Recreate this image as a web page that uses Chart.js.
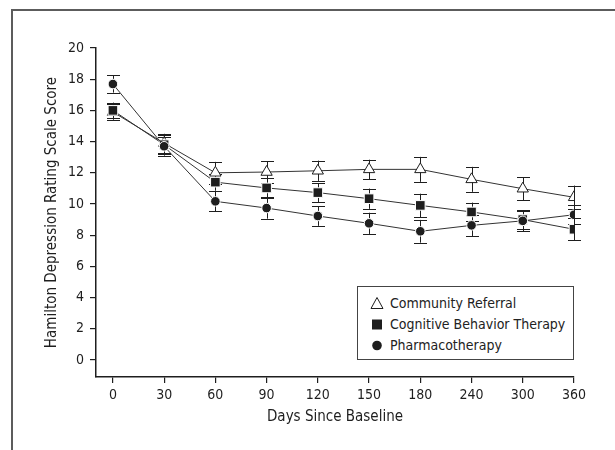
<!DOCTYPE html>
<html>
<head>
<meta charset="utf-8">
<script src="https://cdn.jsdelivr.net/npm/chart.js@4.4.1/dist/chart.umd.min.js"></script>
<style>
  html, body { margin: 0; padding: 0; background: #fff; }
  #wrap { position: relative; width: 615px; height: 450px; overflow: hidden; }
  #frame { position: absolute; left: 11px; top: 9px; width: 700px; height: 500px;
           border-left: 2px solid #5c5c5c; border-top: 2px solid #5c5c5c; }
  #myChart { position: absolute; left: 0; top: 0; }
  #legend { position: absolute; left: 357px; top: 286px; width: 215px; height: 72px;
            border: 1.5px solid #444; background: #fff; color: #222;
            font-family: "Liberation Sans Narrow", "DejaVu Sans Condensed", sans-serif; font-size: 14px; }
  .row { position: absolute; left: 0; height: 20px; line-height: 20px; white-space: nowrap; }
  .row svg { position: absolute; left: 12px; top: 3px; }
  .row span { position: absolute; left: 32px; top: 0; }
</style>
</head>
<body>
<div id="wrap">
  <div id="frame"></div>
  <canvas id="myChart" width="615" height="450"></canvas>
  <div id="legend"></div>
</div>
<script>
// Data
const days = ['0', '30', '60', '90', '120', '150', '180', '240', '300', '360'];
const yTicks = [0, 2, 4, 6, 8, 10, 12, 14, 16, 18, 20];
const seriesNames = ['Community Referral', 'Cognitive Behavior Therapy', 'Pharmacotherapy'];

const community = [15.9, 13.9, 12.0, 12.05, 12.13, 12.22, 12.22, 11.58, 10.98, 10.43];
const cbt       = [16.0, 13.8, 11.4, 11.03, 10.73, 10.34, 9.91, 9.49, 9.0, 8.38];
const pharm     = [17.69, 13.7, 10.17, 9.74, 9.23, 8.76, 8.25, 8.63, 8.92, 9.31];

// +/- error (half length of bars)
const communityErr = [0.5, 0.6, 0.7, 0.7, 0.65, 0.62, 0.8, 0.8, 0.75, 0.75];
const cbtErr       = [0.5, 0.6, 0.55, 0.65, 0.6, 0.65, 0.75, 0.6, 0.6, 0.7];
const pharmErr     = [0.55, 0.6, 0.65, 0.68, 0.63, 0.68, 0.73, 0.68, 0.65, 0.6];

const errorSets = [communityErr, cbtErr, pharmErr];
const FONT = '"Liberation Sans Narrow", "DejaVu Sans Condensed", sans-serif';
const INK = '#1e1e1e';

const toPoints = arr => arr.map((v, i) => ({ x: i, y: v }));

// error bars under the markers
const errorBars = {
  id: 'errorBars',
  beforeDatasetsDraw(chart) {
    const { ctx, scales: { x, y } } = chart;
    ctx.save();
    ctx.strokeStyle = INK;
    ctx.lineWidth = 1;
    chart.data.datasets.forEach((ds, i) => {
      const errs = errorSets[i];
      ds.data.forEach((p, j) => {
        const px = Math.round(x.getPixelForValue(p.x)) + 0.5;
        const top = y.getPixelForValue(p.y + errs[j]);
        const bot = y.getPixelForValue(p.y - errs[j]);
        ctx.beginPath();
        ctx.moveTo(px, top);
        ctx.lineTo(px, bot);
        ctx.moveTo(px - 6.5, Math.round(top) + 0.5);
        ctx.lineTo(px + 6.5, Math.round(top) + 0.5);
        ctx.moveTo(px - 6.5, Math.round(bot) + 0.5);
        ctx.lineTo(px + 6.5, Math.round(bot) + 0.5);
        ctx.stroke();
      });
    });
    ctx.restore();
  }
};

const data = {
  datasets: [
    {
      label: seriesNames[0],
      data: toPoints(community),
      borderColor: '#333', borderWidth: 1,
      pointStyle: 'triangle', pointRadius: 6.5,
      pointBackgroundColor: '#fff', pointBorderColor: INK, pointBorderWidth: 1,
      order: 3
    },
    {
      label: seriesNames[1],
      data: toPoints(cbt),
      borderColor: '#333', borderWidth: 1,
      pointStyle: 'rect', pointRadius: 6.8,
      pointBackgroundColor: INK, pointBorderColor: '#fff', pointBorderWidth: 1,
      order: 2
    },
    {
      label: seriesNames[2],
      data: toPoints(pharm),
      borderColor: '#333', borderWidth: 1,
      pointStyle: 'circle', pointRadius: 4.8,
      pointBackgroundColor: INK, pointBorderColor: '#fff', pointBorderWidth: 1,
      order: 1
    }
  ]
};

const config = {
  type: 'line',
  data: data,
  plugins: [errorBars],
  options: {
    responsive: false,
    animation: false,
    layout: { padding: { left: 0, right: 41, top: 48, bottom: 0 } },
    plugins: { legend: { display: false }, tooltip: { enabled: false } },
    scales: {
      x: {
        type: 'linear',
        min: -0.33,
        max: 9,
        afterBuildTicks: s => { s.ticks = days.map((d, i) => ({ value: i })); },
        afterFit: s => { s.height = 73; },
        ticks: {
          callback: v => days[v],
          font: { family: FONT, size: 14 },
          color: INK,
          padding: 4,
          maxRotation: 0
        },
        grid: { display: true, drawOnChartArea: false, drawTicks: true, tickLength: 6, color: INK, lineWidth: 1.2 },
        border: { display: true, color: INK, width: 1.5 },
        title: {
          display: true,
          text: 'Days Since Baseline',
          font: { family: FONT, size: 15 },
          color: INK,
          padding: { top: 0, bottom: 24 }
        }
      },
      y: {
        min: -1.09,
        max: 20,
        afterBuildTicks: s => { s.ticks = yTicks.map(v => ({ value: v })); },
        afterFit: s => { s.width = 96; },
        ticks: {
          font: { family: FONT, size: 14 },
          color: INK,
          padding: 6
        },
        grid: { display: true, drawOnChartArea: false, drawTicks: true, tickLength: 6, color: INK, lineWidth: 1.2 },
        border: { display: true, color: INK, width: 1.5 },
        title: {
          display: true,
          text: 'Hamilton Depression Rating Scale Score',
          font: { family: FONT, size: 15 },
          color: INK,
          padding: { top: 43, bottom: 0 }
        }
      }
    }
  }
};

const myChart = new Chart(document.getElementById('myChart'), config);

// Legend box built from the series names
const shapes = [
  '<svg width="14" height="14"><polygon points="7,1.5 13,12.5 1,12.5" fill="#fff" stroke="#1e1e1e" stroke-width="1"/></svg>',
  '<svg width="14" height="14"><rect x="2" y="2.5" width="10" height="10" fill="#1e1e1e"/></svg>',
  '<svg width="14" height="14"><circle cx="7" cy="7.5" r="4.8" fill="#1e1e1e"/></svg>'
];
const rowTops = [6, 27, 48];
document.getElementById('legend').innerHTML = seriesNames.map((name, i) =>
  `<div class="row" style="top:${rowTops[i]}px">${shapes[i]}<span>${name}</span></div>`
).join('');
</script>
</body>
</html>
